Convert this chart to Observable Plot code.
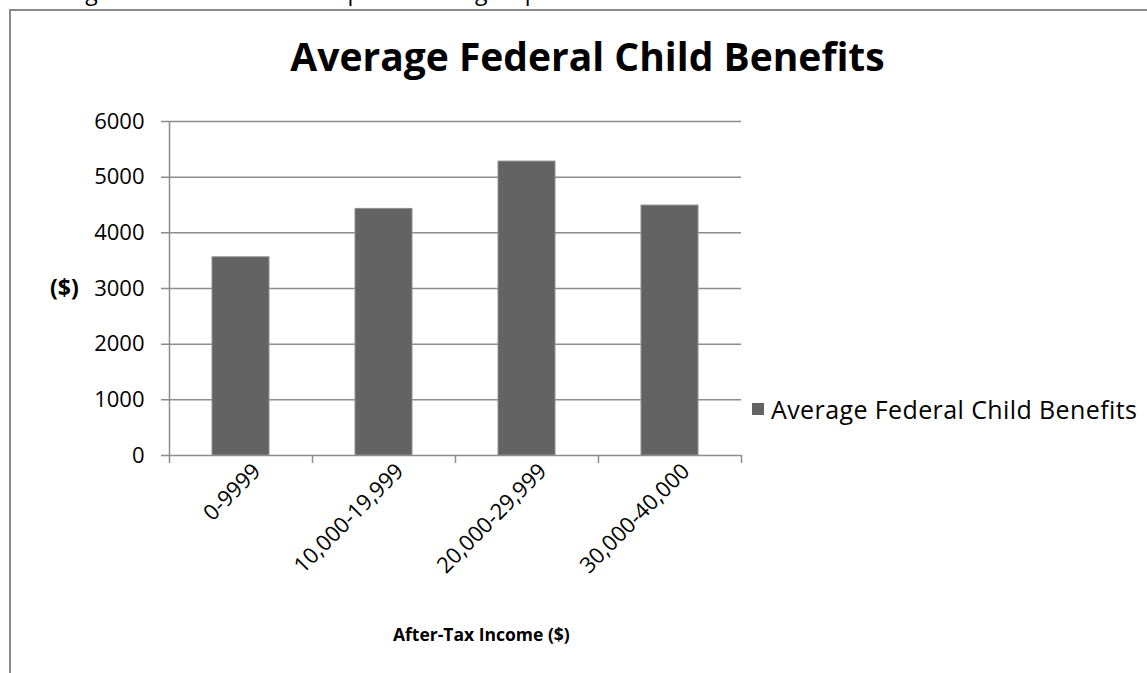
<!DOCTYPE html>
<html>
<head>
<meta charset="utf-8">
<script src="https://cdn.jsdelivr.net/npm/d3@7"></script>
<script src="https://cdn.jsdelivr.net/npm/@observablehq/plot@0.6"></script>
<style>
  html, body { margin: 0; padding: 0; background: #fff; overflow: hidden; }
  #wrap { position: relative; width: 1147px; height: 673px; overflow: hidden; font-family: "Open Sans", Lato, sans-serif; }
  #border { position: absolute; left: 9px; top: 9px; width: 1200px; height: 700px; border: 2px solid #8a8a8a; box-sizing: border-box; }
  #cut { position: absolute; left: 24px; top: -25px; font-size: 23px; color: #000; white-space: nowrap; }
  #title { position: absolute; left: 0; width: 1175px; top: 29px; text-align: center; font-size: 39px; font-weight: 700; color: #000; }
  #ylab { position: absolute; left: 50px; top: 271px; font-size: 23px; font-weight: 700; }
  #xlab { position: absolute; left: 393px; top: 622px; font-size: 17.5px; font-weight: 700; }
  #legend { position: absolute; left: 752px; top: 392px; font-size: 25px; letter-spacing: 0.4px; display: flex; align-items: center; gap: 7px; }
  #legend .sw { width: 12px; height: 12px; background: #636363; }
  #chart { position: absolute; left: 0; top: 0; }
</style>
</head>
<body>
<div id="wrap">
  <div id="cut">Average federal child benefits per income group</div>
  <div id="border"></div>
  <div id="chart"></div>
  <div id="title">Average Federal Child Benefits</div>
  <div id="ylab">($)</div>
  <div id="xlab">After-Tax Income ($)</div>
  <div id="legend"><div class="sw"></div><div class="lt">Average Federal Child Benefits</div></div>
</div>
<script>
const categories = ["0-9999", "10,000-19,999", "20,000-29,999", "30,000-40,000"];
const benefits = [3560, 4430, 5280, 4490];
const yTicks = [0, 1000, 2000, 3000, 4000, 5000, 6000];

const data = categories.map((c, i) => ({category: c, value: benefits[i]}));
const step = (741 - 169) / categories.length;

const chart = Plot.plot({
  width: 1147,
  height: 673,
  marginLeft: 169,
  marginRight: 406,
  marginTop: 121,
  marginBottom: 218,
  style: {background: "transparent", fontFamily: "'Open Sans', Lato, sans-serif"},
  x: {domain: categories, paddingInner: 0.6, paddingOuter: 0.3, label: null},
  y: {domain: [0, 6000], label: null},
  marks: [
    Plot.ruleY(yTicks, {stroke: "#8c8c8c", strokeWidth: 1.5, insetLeft: -8}),
    Plot.barY(data, {x: "category", y: "value", fill: "#636363", stroke: "#8f8f8f", strokeWidth: 1}),
    Plot.ruleX(categories.slice(0, 1), {x: d => d, dx: -step / 2, stroke: "#8c8c8c", strokeWidth: 1.5, insetBottom: -8}),
    Plot.ruleX(categories, {x: d => d, y1: 0, y2: 0, dx: step / 2, stroke: "#8c8c8c", strokeWidth: 1.5, insetBottom: -8}),
    Plot.axisY({ticks: yTicks, tickSize: 0, tickPadding: 25, fontSize: 22, fill: "#000", tickFormat: d => String(d), label: null}),
    Plot.axisX({tickSize: 0, tickRotate: -45, tickPadding: 12, fontSize: 22, fill: "#000", label: null, dx: 16})
  ]
});
document.getElementById("chart").append(chart);
</script>
</body>
</html>
